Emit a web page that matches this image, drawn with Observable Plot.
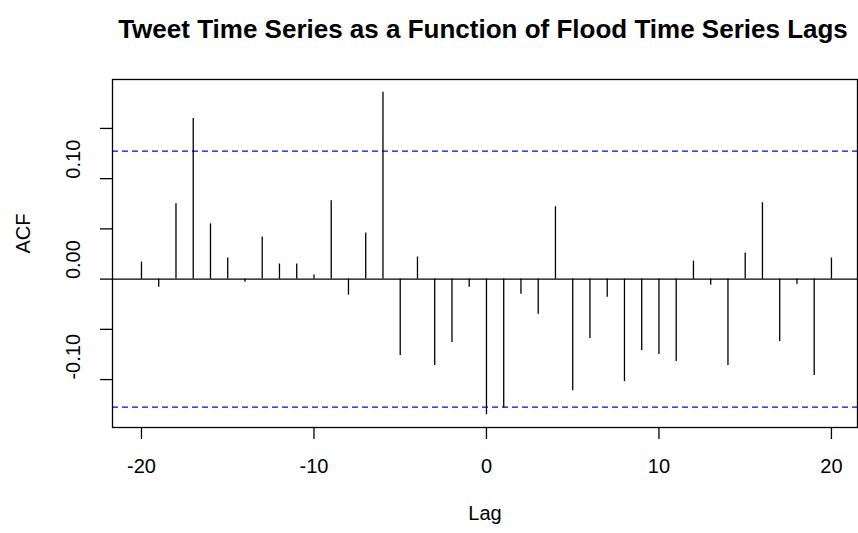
<!DOCTYPE html>
<html>
<head>
<meta charset="utf-8">
<script src="https://cdn.jsdelivr.net/npm/d3@7"></script>
<script src="https://cdn.jsdelivr.net/npm/@observablehq/plot@0.6"></script>
<style>
  html, body { margin: 0; padding: 0; background: #fff; }
  svg { font-family: "Liberation Sans", Arial, sans-serif; }
</style>
</head>
<body>
<div id="chart"></div>
<script>
// Cross-correlation of the tweet series against lags of the flood series
const lags = [-20, -19, -18, -17, -16, -15, -14, -13, -12, -11, -10, -9, -8, -7, -6, -5, -4, -3, -2, -1,
              0, 1, 2, 3, 4, 5, 6, 7, 8, 9, 10, 11, 12, 13, 14, 15, 16, 17, 18, 19, 20];
const acf = [0.017, -0.008, 0.075, 0.160, 0.055, 0.021, -0.003, 0.042, 0.015, 0.015, 0.004, 0.078, -0.016, 0.046, 0.186, -0.076, 0.022, -0.086, -0.063, -0.008,
             -0.135, -0.128, -0.015, -0.035, 0.072, -0.111, -0.059, -0.018, -0.102, -0.071, -0.075, -0.082, 0.018, -0.006, -0.086, 0.026, 0.076, -0.062, -0.005, -0.096, 0.021];
// Approximate 95% significance bound
const bound = 0.1275;
const xTicks = [-20, -10, 0, 10, 20];
const yTicks = [-0.10, -0.05, 0.00, 0.05, 0.10, 0.15];
const yLabels = [-0.10, 0.00, 0.10];
const title = "Tweet Time Series as a Function of Flood Time Series Lags";

const data = lags.map((lag, i) => ({lag, acf: acf[i]}));

const chart = Plot.plot({
  width: 858,
  height: 533,
  marginLeft: 112,
  marginRight: 1,
  marginTop: 79,
  marginBottom: 106,
  x: {domain: [-21.68, 21.51]},
  y: {domain: [-0.1477, 0.1987]},
  style: {fontFamily: "'Liberation Sans', Arial, sans-serif", color: "black", background: "white"},
  marks: [
    Plot.ruleY([0], {stroke: "black", strokeWidth: 1.2}),
    Plot.ruleY([bound, -bound], {stroke: "#0000ff", strokeWidth: 1.2, strokeDasharray: "6,4"}),
    Plot.ruleX(data, {x: "lag", y1: 0, y2: "acf", stroke: "black", strokeWidth: 1.3}),
    Plot.frame({stroke: "black", strokeWidth: 1.3}),
    Plot.axisX({ticks: xTicks, tickSize: 12, tickPadding: 19, tickFormat: d => String(d),
                fontSize: 20, label: null, stroke: "black", strokeWidth: 1.3}),
    Plot.axisY({ticks: yTicks, tickSize: 12, tickFormat: () => "", label: null,
                stroke: "black", strokeWidth: 1.3}),
    Plot.text(yLabels, {y: d => d, frameAnchor: "left", dx: -39, rotate: -90,
                        text: d => d.toFixed(2), fontSize: 20, fill: "black"}),
    Plot.text(["Lag"], {frameAnchor: "bottom", dy: 92, fontSize: 20, fill: "black"}),
    Plot.text(["ACF"], {frameAnchor: "left", dx: -89, rotate: -90, fontSize: 20, fill: "black"}),
    Plot.text([title], {frameAnchor: "top", dy: -60, dx: -2, fontSize: 26, fontWeight: "bold", fill: "black"})
  ]
});

document.getElementById("chart").appendChild(chart);
</script>
</body>
</html>
